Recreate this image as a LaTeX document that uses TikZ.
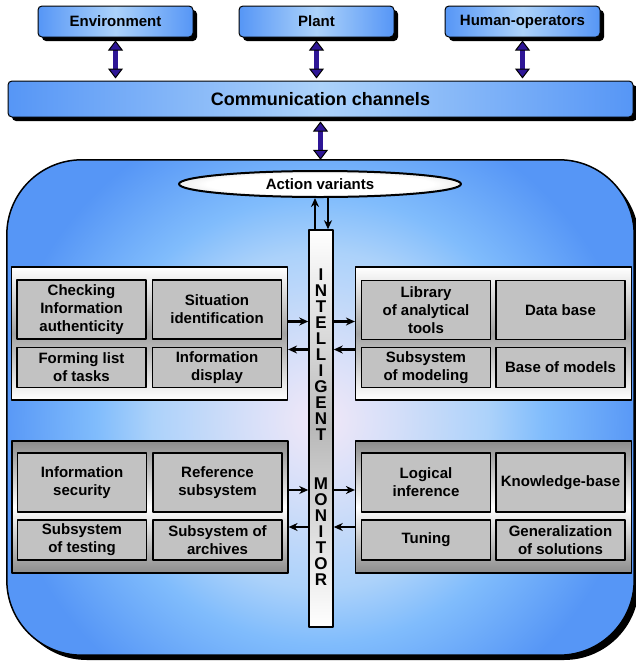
\documentclass[tikz,border=0pt]{standalone}
\usepackage{fontspec}
\setmainfont{Liberation Sans}
\usetikzlibrary{arrows.meta,shapes.geometric,shadows}

\definecolor{skyblue}{RGB}{86,150,246}
\definecolor{paleblue}{RGB}{172,210,250}
\definecolor{lightsky}{RGB}{128,188,252}
\definecolor{pinkwhite}{RGB}{242,232,248}
\definecolor{navyarrow}{RGB}{46,22,150}
\definecolor{boxgray}{RGB}{194,194,194}
\definecolor{panelgray}{RGB}{140,140,140}

\pgfdeclareradialshading{monitorglow}{\pgfpoint{0bp}{0bp}}{color(0bp)=(pinkwhite); color(5bp)=(pinkwhite!55!paleblue); color(10.5bp)=(paleblue); color(14bp)=(lightsky); color(20bp)=(skyblue); color(50bp)=(skyblue)}
\pgfdeclareradialshading{lensshade}{\pgfpoint{0bp}{0bp}}{color(0bp)=(white); color(20bp)=(white); color(50bp)=(gray!80)}

\tikzset{
  bluebox/.style={draw=black, line width=1pt, rounded corners=4pt,
    left color=skyblue, right color=skyblue, middle color=paleblue,
    drop shadow={shadow xshift=4pt, shadow yshift=-4pt, fill=black, opacity=1}},
  taskbox/.style={draw=black, line width=1.2pt, fill=boxgray, align=center,
    minimum width=129pt, inner sep=0pt},
  lightpanel/.style={draw=black, line width=1.2pt, minimum width=276pt, minimum height=133pt,
    top color=white, bottom color=white, middle color=panelgray!80},
  darkpanel/.style={draw=black, line width=1.2pt, minimum width=276pt, minimum height=132pt,
    top color=panelgray, bottom color=panelgray, middle color=white},
  linkarrow/.style={line width=5pt, draw=navyarrow,
    {Triangle[width=15pt,length=10pt,color=black,fill=navyarrow,line width=1pt]}-{Triangle[width=15pt,length=10pt,color=black,fill=navyarrow,line width=1pt]}},
  flow/.style={line width=2.2pt, -{Stealth[length=9pt,width=8pt]}}
}

\begin{document}
\begin{tikzpicture}[x=1pt, y=-1pt, line join=round, font=\bfseries\fontsize{15}{18}\selectfont]
\useasboundingbox (0,0) rectangle (636,662);
\path
(115.5,21.5)coordinate(E)
(316.5,21.5)coordinate(P)
(522.5,21.5)coordinate(H)
(320.5,99)coordinate(C)
(320.5,407.5)coordinate(F)
(320,420)coordinate(G)
;
% outer frame of the monitor
\node[fill=skyblue, rounded corners=75pt, minimum width=627pt, minimum height=495pt,
  drop shadow={shadow xshift=5pt, shadow yshift=-5pt, fill=black, opacity=1}] (frame) at (F) {};
\begin{scope}
  \clip[rounded corners=75pt] (frame.south west) rectangle (frame.north east);
  \shade[shading=monitorglow] (G) circle[radius=400];
\end{scope}
\draw[line width=1.5pt, rounded corners=75pt] (frame.south west) rectangle (frame.north east);

\foreach \c/\n/\t in {E/env/Environment, P/plant/Plant, H/human/Human-operators}{
  \node[bluebox, minimum width=155pt, minimum height=31pt] (\n) at (\c) {\t};}
\node[bluebox, minimum width=625pt, minimum height=36pt, font=\bfseries\fontsize{18}{20}\selectfont] (comm) at (C) {Communication channels};

\foreach \n in {env, plant, human}{
  \draw[linkarrow, shorten <=3pt, shorten >=2pt] (\n.south) -- (\n.south |- comm.north);}
\draw[linkarrow, shorten <=4pt] (comm.south) -- (comm.south |- frame.north);

\node[ellipse, draw=black, line width=2pt, shading=lensshade, minimum width=282pt, minimum height=26pt,
  inner sep=0pt] (actions) at (320,184) {Action variants};

% intelligent monitor column
\node[draw=black, line width=1.5pt, minimum width=24pt, minimum height=397pt, inner sep=0pt,
  top color=white, bottom color=white, middle color=gray!55] (monitor) at (321,428.5) {};
\node[align=center, font=\bfseries\fontsize{17}{16}\selectfont] (word1) at (321,355) {I\\N\\T\\E\\L\\L\\I\\G\\E\\N\\T};
\node[align=center, font=\bfseries\fontsize{17}{16}\selectfont] (word2) at (321,532) {M\\O\\N\\I\\T\\O\\R};

\coordinate (upfoot) at ([xshift=-6pt]monitor.north);
\coordinate (downfoot) at ([xshift=7pt]monitor.north);
\draw[flow] (upfoot) -- (upfoot |- actions.south);
\draw[flow] (downfoot |- actions.south) -- (downfoot);

% four panels
\node[lightpanel] (panelTL) at (149.5,333.5) {};
\node[lightpanel] (panelTR) at (493.5,333.5) {};
\node[darkpanel] (panelBL) at (150,507) {};
\node[darkpanel] (panelBR) at (493.5,507) {};

\foreach \n/\x/\y/\h/\t in {
  chk/81.5/309.5/59/{Checking\\Information\\authenticity},
  sit/217/309.5/59/{Situation\\identification},
  frm/81.5/367.5/40/{Forming list\\of tasks},
  dsp/217/367.5/40/{Information\\display},
  lib/426/310/59/{Library\\of analytical\\tools},
  dat/560.5/310/59/{Data base},
  mod/426/367.5/40/{Subsystem\\of modeling},
  bmd/560.5/367.5/40/{Base of models},
  sec/82/482.5/59/{Information\\security},
  ref/217.5/482.5/59/{Reference\\subsystem},
  tst/82/540/40/{Subsystem\\of testing},
  arc/217.5/540/40/{Subsystem of\\archives},
  inf/426/482.5/59/{Logical\\inference},
  kb/560.5/482.5/59/{Knowledge-base},
  tun/426/540/40/{Tuning},
  gen/560.5/540/40/{Generalization\\of solutions}}{
  \node[taskbox, minimum height=\h pt] (\n) at (\x,\y) {\t};}

% links between panels and the monitor
\foreach \p/\u/\d in {panelTL/12/-16, panelBL/17/-20}{
  \coordinate (\p-in) at ([yshift=\u pt]\p.east);
  \coordinate (\p-out) at ([yshift=\d pt]\p.east);
  \draw[flow] (\p-in) -- (\p-in -| monitor.west);
  \draw[flow] (\p-out -| monitor.west) -- (\p-out);}
\foreach \p/\u/\d in {panelTR/12/-16, panelBR/17/-20}{
  \coordinate (\p-in) at ([yshift=\u pt]\p.west);
  \coordinate (\p-out) at ([yshift=\d pt]\p.west);
  \draw[flow] (\p-in -| monitor.east) -- (\p-in);
  \draw[flow] (\p-out) -- (\p-out -| monitor.east);}
\end{tikzpicture}
\end{document}
